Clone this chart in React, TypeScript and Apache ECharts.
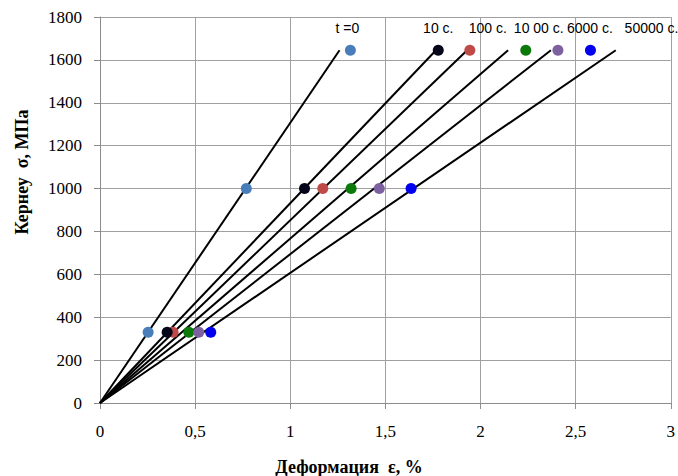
import React, { useEffect, useRef } from "react";
import * as echarts from "echarts";

// Series (creep time) names
const seriesNames = ["t =0", "10 c.", "100 c.", "10 00 c.", "6000 c.", "50000 c."];
// Stress levels (MPa) at which strains were measured
const stressLevels = [330, 1000, 1645];
// Strain values (%) per series, matching stressLevels
const strainT0 = [0.253, 0.769, 1.316];
const strain10 = [0.353, 1.075, 1.778];
const strain100 = [0.384, 1.171, 1.944];
const strain1000 = [0.467, 1.32, 2.238];
const strain6000 = [0.519, 1.468, 2.407];
const strain50000 = [0.582, 1.635, 2.578];
// Straight lines from origin: end strain (%) and end stress (MPa)
const lineEndStrain = [1.259, 1.766, 1.93, 2.145, 2.37, 2.711];
const lineEndStress = 1645;
// Axis ticks
const xTicks = [0, 0.5, 1, 1.5, 2, 2.5, 3];
const yTicks = [0, 200, 400, 600, 800, 1000, 1200, 1400, 1600, 1800];

const strainSets = [strainT0, strain10, strain100, strain1000, strain6000, strain50000];
const colors = ["#4A7EBB", "#06061a", "#BE4B48", "#0B7A0B", "#7D60A0", "#0000EE"];
const labelDx = [-3, 0, 18, 13, 32, 61];
const scatterZ = [3, 5, 4, 3, 3, 3];

export default function App() {
  const ref = useRef<HTMLDivElement>(null);
  useEffect(() => {
    document.body.style.margin = "0";
    if (!ref.current) return;
    const chart = echarts.init(ref.current, undefined, { renderer: "svg", width: 678, height: 476 });
    const series: any[] = [];
    lineEndStrain.forEach((xe, i) => {
      series.push({
        type: "line",
        name: seriesNames[i] + " line",
        data: [
          [0, 0],
          [xe, lineEndStress],
        ],
        symbol: "none",
        lineStyle: { color: "#000", width: 2 },
        z: 2,
        silent: true,
      });
    });
    strainSets.forEach((arr, i) => {
      series.push({
        type: "scatter",
        name: seriesNames[i],
        symbolSize: 11,
        itemStyle: { color: colors[i], opacity: 1 },
        z: scatterZ[i],
        data: arr.map((x, j) => {
          const item: any = { value: [x, stressLevels[j]] };
          if (j === stressLevels.length - 1) {
            item.label = {
              show: true,
              formatter: seriesNames[i],
              position: "top",
              offset: [labelDx[i], -5],
              color: "#000",
              fontFamily: "Liberation Sans",
              fontSize: 14,
            };
          }
          return item;
        }),
      });
    });
    chart.setOption({
      animation: false,
      grid: { left: 100, right: 6, top: 17, bottom: 73, containLabel: false },
      xAxis: {
        type: "value",
        min: xTicks[0],
        max: xTicks[xTicks.length - 1],
        interval: 0.5,
        axisLine: { show: true, lineStyle: { color: "#8c8c8c", width: 1 } },
        axisTick: { show: true, length: 6, lineStyle: { color: "#8c8c8c" } },
        splitLine: { show: true, lineStyle: { color: "#a0a0a0", width: 1 } },
        axisLabel: {
          margin: 20,
          color: "#000",
          fontFamily: "Liberation Serif",
          fontSize: 17,
          formatter: (v: number) => String(v).replace(".", ","),
        },
      },
      yAxis: {
        type: "value",
        min: yTicks[0],
        max: yTicks[yTicks.length - 1],
        interval: 200,
        axisLine: { show: true, lineStyle: { color: "#8c8c8c", width: 1 } },
        axisTick: { show: true, length: 6, lineStyle: { color: "#8c8c8c" } },
        splitLine: { show: true, lineStyle: { color: "#a0a0a0", width: 1 } },
        axisLabel: {
          margin: 18,
          color: "#000",
          fontFamily: "Liberation Serif",
          fontSize: 17,
          formatter: (v: number) => String(v),
        },
      },
      graphic: [
        {
          type: "text",
          x: 22,
          y: 172,
          rotation: Math.PI / 2,
          style: {
            text: "Кернеу  σ, МПа",
            fill: "#000",
            font: "bold 18px 'Liberation Serif'",
            textAlign: "center",
            textVerticalAlign: "middle",
          },
        },
        {
          type: "text",
          x: 349,
          y: 467,
          style: {
            text: "Деформация  ε, %",
            fill: "#000",
            font: "bold 18px 'Liberation Serif'",
            textAlign: "center",
            textVerticalAlign: "middle",
          },
        },
      ],
      series,
    });
    return () => chart.dispose();
  }, []);
  return <div ref={ref} style={{ width: 678, height: 476, position: "absolute", left: 0, top: 0 }} />;
}
